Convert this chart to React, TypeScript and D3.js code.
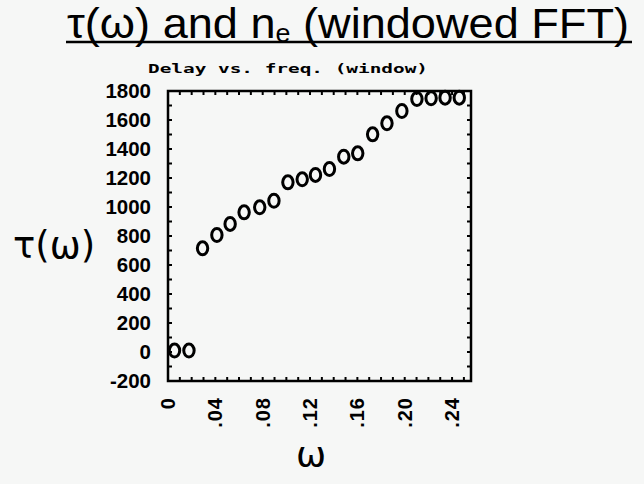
import React from "react";
import * as d3 from "d3";

const omega = [0.0055, 0.0177, 0.0292, 0.0413, 0.0525, 0.0643, 0.0775, 0.0895, 0.1013, 0.1134, 0.1246, 0.1364, 0.1485, 0.1603, 0.1729, 0.185, 0.1976, 0.2103, 0.2223, 0.2341, 0.2461];
const delay = [10, 10, 715, 807, 883, 963, 998, 1043, 1170, 1191, 1221, 1262, 1347, 1370, 1501, 1577, 1662, 1745, 1750, 1754, 1754];
const xTickValues = [0, 0.04, 0.08, 0.12, 0.16, 0.2, 0.24];
const xTickLabels = ["0", ".04", ".08", ".12", ".16", ".20", ".24"];
const yTickValues = [-200, 0, 200, 400, 600, 800, 1000, 1200, 1400, 1600, 1800];

const W = 644;
const H = 484;
const L = 168, R = 471, T = 91, B = 381;

export default function App() {
  const x = d3.scaleLinear().domain([0, 0.256]).range([L, R]);
  const y = d3.scaleLinear().domain([-200, 1800]).range([B, T]);
  const minorX = d3.range(0.01, 0.256, 0.01);
  const minorY = d3.range(-100, 1800, 100);
  const tl = 4;
  const sans = "'Liberation Sans', Arial, sans-serif";
  return (
    <svg width={W} height={H} style={{ position: "absolute", left: 0, top: 0, background: "#f6f7f6" }}>
      <rect x={0} y={0} width={W} height={H} fill="#f6f7f6" />
      {/* title */}
      <text x={67} y={38} fontFamily={sans} fontSize={42} textLength={562} lengthAdjust="spacingAndGlyphs" fill="#000">
        <tspan>τ(ω) and n</tspan>
        <tspan fontSize={25} dy={4}>e</tspan>
        <tspan dy={-4}> (windowed FFT)</tspan>
      </text>
      <line x1={66} x2={632} y1={42} y2={42} stroke="#000" strokeWidth={2.5} />
      {/* subtitle */}
      <text x={148} y={73} fontFamily="'DejaVu Sans Mono', monospace" fontWeight="bold" fontSize={12.5} textLength={280} lengthAdjust="spacingAndGlyphs" fill="#000">
        Delay vs. freq. (window)
      </text>
      {/* frame */}
      <rect x={L} y={T} width={R - L} height={B - T} fill="none" stroke="#000" strokeWidth={2.5} />
      {minorX.map((v, i) => (
        <g key={"mx" + i}>
          <line x1={x(v)} x2={x(v)} y1={B} y2={B - tl} stroke="#000" strokeWidth={2} />
          <line x1={x(v)} x2={x(v)} y1={T} y2={T + tl} stroke="#000" strokeWidth={2} />
        </g>
      ))}
      {minorY.map((v, i) => (
        <g key={"my" + i}>
          <line x1={L} x2={L + tl} y1={y(v)} y2={y(v)} stroke="#000" strokeWidth={2} />
          <line x1={R} x2={R - tl} y1={y(v)} y2={y(v)} stroke="#000" strokeWidth={2} />
        </g>
      ))}
      {/* y tick labels */}
      {yTickValues.map((v, i) => (
        <text key={"yl" + i} x={151} y={y(v)} dy="0.36em" textAnchor="end" fontFamily={sans} fontWeight="bold" fontSize={20.5} fill="#000">
          {v}
        </text>
      ))}
      {/* x tick labels */}
      {xTickValues.map((v, i) => (
        <text key={"xl" + i} transform={`translate(${x(v) + 7},397) rotate(-90)`} textAnchor="end" fontFamily={sans} fontWeight="bold" fontSize={20} letterSpacing={1} fill="#000">
          {xTickLabels[i]}
        </text>
      ))}
      {/* data */}
      {omega.map((v, i) => (
        <ellipse key={"p" + i} cx={x(v)} cy={y(delay[i])} rx={5.2} ry={6.5} fill="none" stroke="#000" strokeWidth={3} />
      ))}
      {/* axis labels */}
      <text x={13} y={258} fontFamily="'DejaVu Sans', sans-serif" fontSize={37} fill="#000">τ(ω)</text>
      <text x={311} y={467} textAnchor="middle" fontFamily="'DejaVu Sans', sans-serif" fontSize={36} fill="#000">ω</text>
    </svg>
  );
}
